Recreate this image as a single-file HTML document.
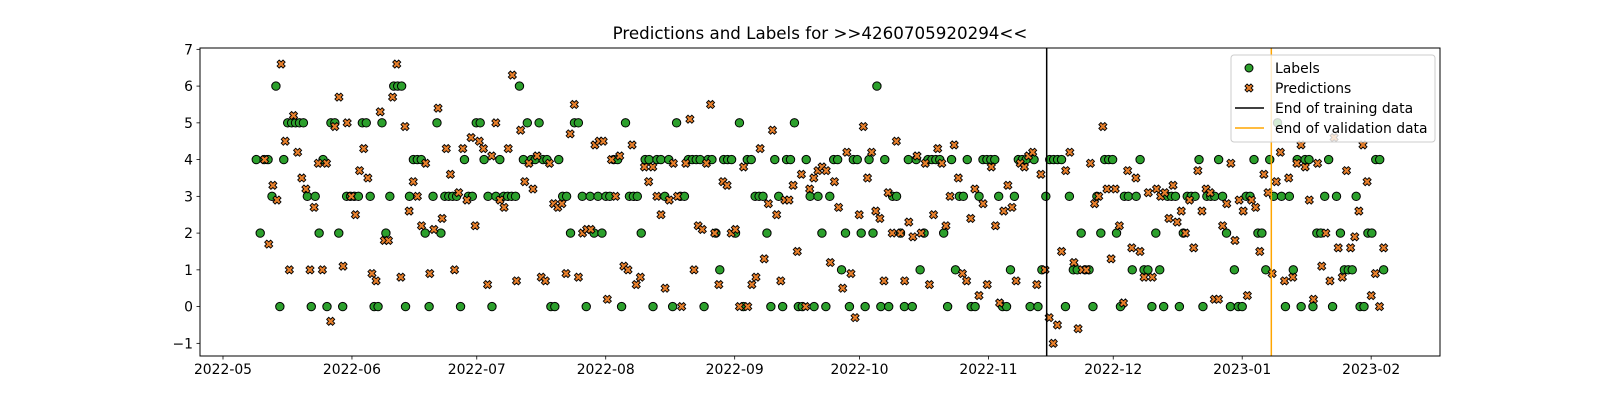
<!DOCTYPE html>
<html><head><meta charset="utf-8"><style>
body{margin:0;background:#fff}
svg{display:block;font-family:"DejaVu Sans","Liberation Sans",sans-serif}
</style></head><body>
<svg id="chart" width="1600" height="400" viewBox="0 0 1600 400">
<text x="820" y="39" text-anchor="middle" font-size="16.7">Predictions and Labels for &gt;&gt;4260705920294&lt;&lt;</text>
<g id="marks"></g>
<g id="axes"></g>
</svg>
<script>
const labelStart = '2022-05-09', labelEnd = '2023-02-04';
const predStart = '2022-05-11', predEnd = '2023-02-04';
const trainEnd = '2022-11-15', valEnd = '2023-01-08';
const yTicks = [-1,0,1,2,3,4,5,6,7];
const xTickDates = ['2022-05-01','2022-06-01','2022-07-01','2022-08-01','2022-09-01','2022-10-01','2022-11-01','2022-12-01','2023-01-01','2023-02-01'];
const xTickLabels = ['2022-05','2022-06','2022-07','2022-08','2022-09','2022-10','2022-11','2022-12','2023-01','2023-02'];
const labels = [4,2,4,4,3,6,0,4,5,5,
5,5,5,3,0,3,2,4,0,5,
5,2,0,3,3,3,3,5,5,3,
0,0,5,2,3,6,6,6,0,3,
4,4,4,2,0,3,5,2,3,3,
3,3,0,4,3,3,5,5,4,3,
0,3,4,3,3,3,3,6,4,5,
4,4,5,4,4,0,0,4,3,3,
2,5,5,3,0,3,2,3,2,3,
3,4,4,0,5,3,3,3,2,4,
4,0,4,4,3,4,0,5,3,3,
4,4,4,4,0,4,4,2,1,4,
4,4,2,5,0,4,4,3,3,3,
2,0,4,3,0,4,4,5,0,0,
4,3,0,3,2,0,3,4,4,1,
2,0,4,4,2,0,4,2,6,0,
4,0,3,3,2,0,4,0,4,1,
2,4,4,4,4,2,0,4,1,3,
3,4,0,0,3,4,4,4,4,3,
0,0,1,3,4,4,4,0,4,0,
1,3,4,4,4,4,0,3,1,1,
2,1,1,0,3,2,4,4,4,2,
0,3,3,1,3,4,1,1,0,2,
1,0,3,3,3,0,2,3,3,3,
4,0,3,3,3,4,3,2,0,1,
0,0,3,3,4,2,2,1,4,3,
5,3,0,3,1,4,0,4,4,0,
2,2,3,4,0,3,2,1,1,1,
3,0,0,2,2,4,4,1];
const predictions = [4.0,1.7,3.3,2.9,6.6,4.5,1.0,5.2,4.2,3.5,
3.2,1.0,2.7,3.9,1.0,3.9,-0.4,4.9,5.7,1.1,
5.0,3.0,2.5,3.7,4.3,3.5,0.9,0.7,5.3,1.8,
1.8,5.7,6.6,0.8,4.9,2.6,3.4,3.0,2.2,3.9,
0.9,2.1,5.4,2.4,4.3,3.6,1.0,3.1,4.3,2.9,
4.6,2.2,4.5,4.3,0.6,4.1,5.0,2.9,2.7,4.3,
6.3,0.7,4.8,3.4,3.9,3.2,4.1,0.8,0.7,3.9,
2.8,2.7,2.8,0.9,4.7,5.5,0.8,2.0,2.1,2.1,
4.4,4.5,4.5,0.2,4.0,3.0,4.1,1.1,1.0,4.4,
0.6,0.8,3.8,3.4,3.8,3.0,2.5,0.5,2.9,3.9,
3.0,0.0,3.9,5.1,1.0,2.2,2.1,3.9,5.5,2.0,
0.6,3.4,3.3,2.0,2.1,0.0,3.8,0.0,0.6,0.8,
4.3,1.3,2.8,4.8,2.5,0.7,2.9,2.9,3.3,1.5,
3.6,0.0,3.2,3.5,3.7,3.8,3.7,1.2,3.4,2.7,
0.5,4.2,0.9,-0.3,2.5,4.9,3.5,4.2,2.6,2.4,
0.7,3.1,2.0,4.5,2.0,0.7,2.3,1.9,4.1,2.0,
3.9,0.6,2.5,4.3,3.9,2.2,3.0,4.4,3.5,0.9,
0.7,2.4,3.2,0.3,2.8,0.6,3.8,2.2,0.1,2.6,
3.3,2.7,0.7,3.9,3.8,4.1,4.2,0.6,3.6,1.0,
-0.3,-1.0,-0.5,1.5,3.7,4.2,1.2,-0.6,1.0,1.0,
3.9,2.8,3.0,4.9,3.2,1.3,3.2,2.2,0.1,3.7,
1.6,3.5,1.5,0.8,3.1,0.8,3.2,3.0,3.1,2.4,
3.3,2.3,2.6,2.0,2.9,1.6,3.7,2.6,3.2,3.1,
0.2,0.2,2.2,2.8,3.9,1.8,2.9,2.6,0.3,2.9,
2.7,1.5,3.6,3.1,0.9,3.4,4.2,0.7,3.5,0.8,
3.9,4.4,3.8,2.9,0.2,3.9,1.1,2.0,0.7,4.6,
1.6,0.8,3.7,1.6,1.9,2.6,4.4,3.4,0.3,0.9,
0.0,1.6];

const NS = 'http://www.w3.org/2000/svg';
const L = 200, R = 1440, T = 48, B = 356;
const DAY = 86400000;
const t0 = Date.parse('2022-05-01'), pxPerDay = 4.16, x0 = 223;
function xs(ms){ return x0 + (ms - t0) / DAY * pxPerDay; }
function ys(v){ return 306.6 - v * 36.75; }
function mk(tag, attrs, parent){ const e = document.createElementNS(NS, tag); for (const k in attrs) e.setAttribute(k, attrs[k]); parent.appendChild(e); return e; }
function xShape(cx, cy){
  const a = 4.2, t = 1.5, p = [];
  const base = [[t,t],[a,t],[a,-t],[t,-t],[t,-a],[-t,-a],[-t,-t],[-a,-t],[-a,t],[-t,t],[-t,a],[t,a]];
  const c = Math.SQRT1_2;
  base.forEach(([u,v]) => p.push((cx + (u - v) * c).toFixed(2) + ',' + (cy + (u + v) * c).toFixed(2)));
  return p.join(' ');
}
function dates(start, end, n){
  const s = Date.parse(start), e = Date.parse(end), out = [];
  for (let i = 0; i < n; i++) out.push(s + (e - s) * i / (n - 1));
  return out;
}
const marks = document.getElementById('marks');
const axes = document.getElementById('axes');

const ld = dates(labelStart, labelEnd, labels.length);
labels.forEach((v, i) => {
  const c = mk('circle', {cx: xs(ld[i]), cy: ys(v), r: 4.2, fill: '#2ca02c', stroke: '#000', 'stroke-width': 1}, marks);
  
  
});
const pd = dates(predStart, predEnd, predictions.length);
predictions.forEach((v, i) => {
  const p = mk('polygon', {points: xShape(xs(pd[i]), ys(v)), fill: '#e8802c', stroke: '#000', 'stroke-width': 0.9}, marks);
  
  
});

const tl = mk('line', {x1: xs(Date.parse(trainEnd)), x2: xs(Date.parse(trainEnd)), y1: T, y2: B, stroke: '#000', 'stroke-width': 1.5}, marks);


const vl = mk('line', {x1: xs(Date.parse(valEnd)), x2: xs(Date.parse(valEnd)), y1: T, y2: B, stroke: '#ffa500', 'stroke-width': 1.5}, marks);



const frame = mk('rect', {x: L, y: T, width: R - L, height: B - T, fill: 'none', stroke: '#000', 'stroke-width': 1}, axes);



yTicks.forEach(v => {
  const y = ys(v);
  mk('line', {x1: L - 3.5, x2: L, y1: y, y2: y, stroke: '#000', 'stroke-width': 0.8}, axes);
  const t = mk('text', {x: L - 7, y: y + 5, 'text-anchor': 'end', 'font-size': 13.9}, axes);
  t.textContent = v < 0 ? '\u2212' + Math.abs(v) : String(v);
  
  
});
xTickDates.forEach((d, i) => {
  const x = xs(Date.parse(d));
  mk('line', {x1: x, x2: x, y1: B, y2: B + 3.5, stroke: '#000', 'stroke-width': 0.8}, axes);
  const t = mk('text', {x: x, y: B + 18, 'text-anchor': 'middle', 'font-size': 13.9}, axes);
  t.textContent = xTickLabels[i];
  
  
});

const lg = mk('g', {}, axes);


mk('rect', {x: 1231, y: 55, width: 204, height: 87, rx: 3, fill: '#fff', 'fill-opacity': 0.8, stroke: '#ccc', 'stroke-width': 1}, lg);
mk('circle', {cx: 1249, cy: 68, r: 4, fill: '#2ca02c', stroke: '#000', 'stroke-width': 1}, lg);
mk('polygon', {points: xShape(1249, 88), fill: '#e8802c', stroke: '#000', 'stroke-width': 0.9}, lg);
mk('line', {x1: 1235, x2: 1264, y1: 108, y2: 108, stroke: '#000', 'stroke-width': 1.5}, lg);
mk('line', {x1: 1235, x2: 1264, y1: 128, y2: 128, stroke: '#ffa500', 'stroke-width': 1.5}, lg);
const legendTexts = ['Labels', 'Predictions', 'End of training data', 'end of validation data'];
legendTexts.forEach((s, i) => {
  const t = mk('text', {x: 1275, y: 73 + i * 20, 'font-size': 13.9}, lg);
  t.textContent = s;
  
  
});
</script>
</body></html>
